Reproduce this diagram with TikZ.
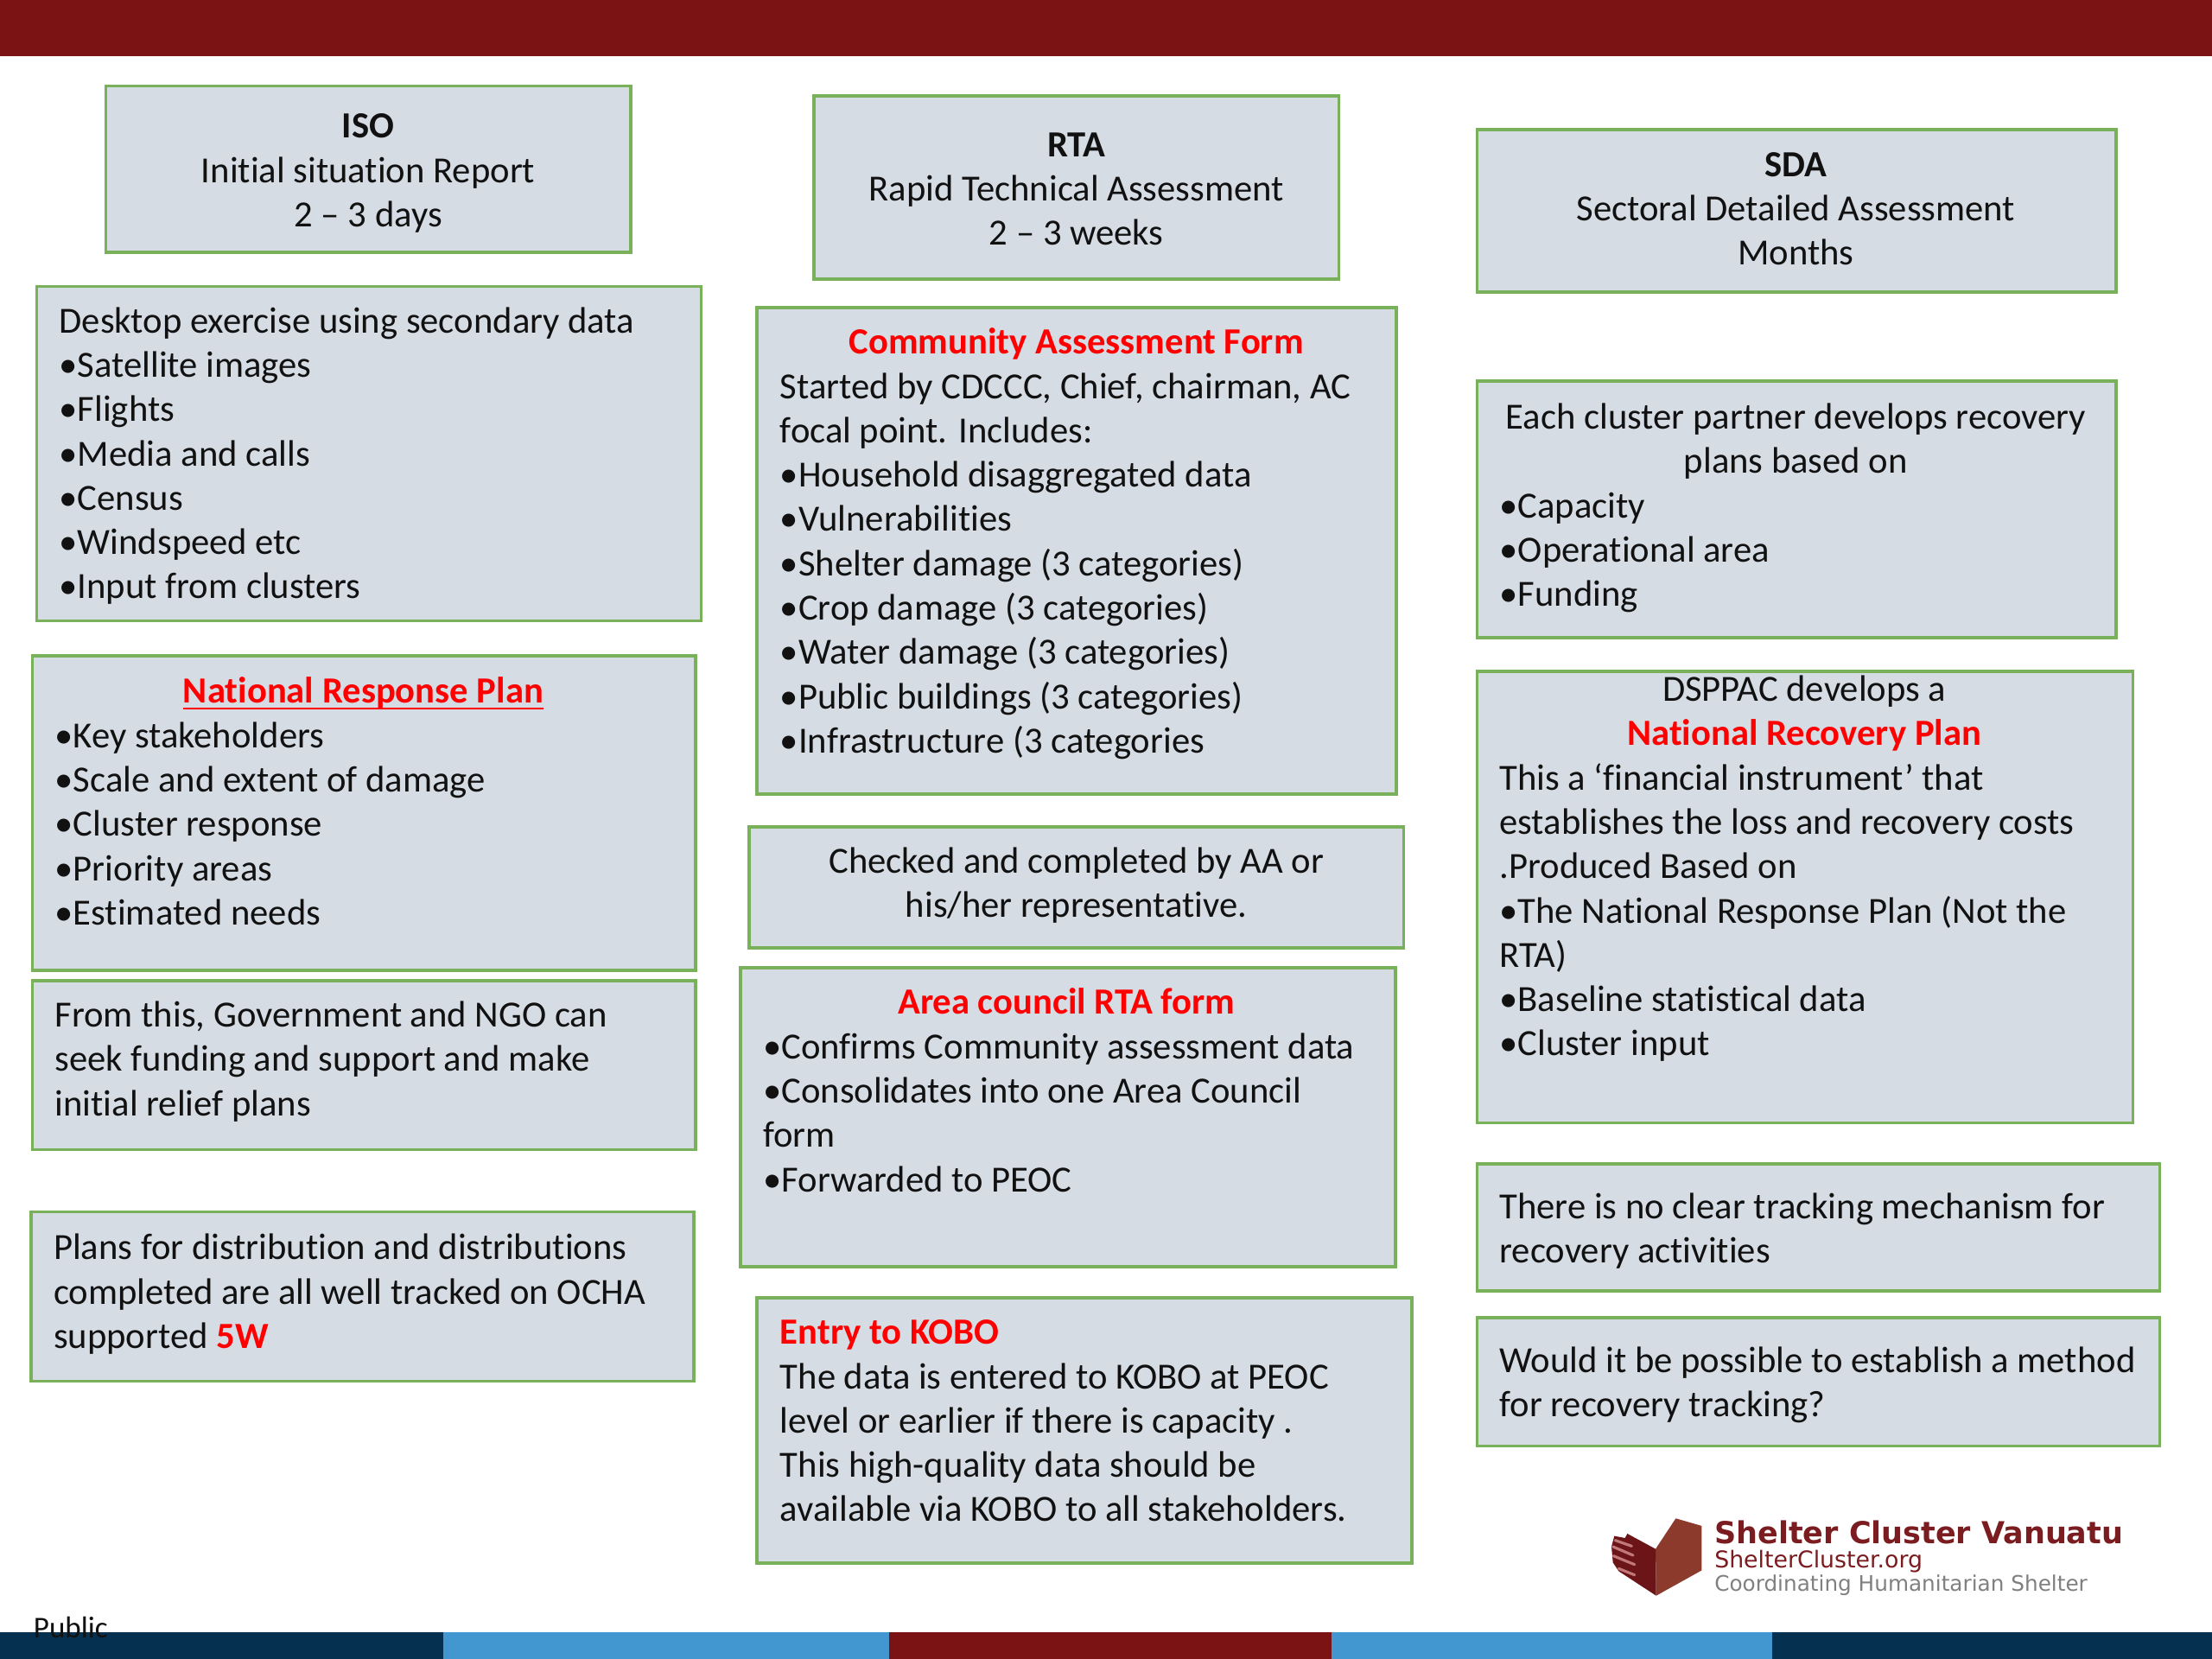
\documentclass[tikz,border=0pt]{standalone}
\usepackage{fontspec}
\setmainfont[Ligatures=NoCommon]{Carlito}
\newfontfamily\logofont{DejaVu Sans}
\usetikzlibrary{fit}
\definecolor{barred}{HTML}{7B1315}
\definecolor{navy}{HTML}{05304F}
\definecolor{skyb}{HTML}{4297D0}
\definecolor{boxfill}{HTML}{D5DCE4}
\definecolor{boxline}{HTML}{78B15A}
\definecolor{ink}{HTML}{111111}
\definecolor{logodark}{HTML}{6B1518}
\definecolor{logobrown}{HTML}{8B3A2C}
\definecolor{logostripe}{HTML}{C07878}
\definecolor{logotext}{HTML}{7A1C20}
\definecolor{logogray}{HTML}{808080}
\newcommand{\redb}[1]{\textcolor{red}{\textbf{#1}}}
\newcommand{\thickul}[1]{\setbox0\hbox{#1}\rlap{\rule[-2.6pt]{\wd0}{0.9pt}}\box0}
\tikzset{
  x=0.02cm,y=-0.02cm,
  panel/.style={draw=boxline,fill=boxfill,line width=1.3pt,inner sep=0pt,outer sep=0pt},
  txt/.style={inner sep=0pt,outer sep=0pt,text=ink,yshift=-0.01cm,font=\fontsize{14.87}{17.87}\selectfont},
  ltxt/.style={txt,anchor=north west,align=left},
  ctxt/.style={txt,anchor=north,align=center},
  bar/.style={draw=none,inner sep=0pt,outer sep=0pt},
}
\begin{document}
\begin{tikzpicture}
\useasboundingbox (0,0) rectangle (1568,1176);
\fill[white] (0,0) rectangle (1568,1176);
% bars
\node[bar,fill=barred,fit={(0,0)(1568,40)}] (topbar) {};
\node[bar,fill=navy,fit={(0,1157)(314,1176)}] (b1) {};
\node[bar,fill=skyb,fit={(314,1157)(630,1176)}] (b2) {};
\node[bar,fill=barred,fit={(630,1157)(944,1176)}] (b3) {};
\node[bar,fill=skyb,fit={(944,1157)(1256,1176)}] (b4) {};
\node[bar,fill=navy,fit={(1256,1157)(1568,1176)}] (b5) {};
% column 1
\node[panel,fit={(75,61)(447,179)}] (iso) {};
\node[ctxt] (isot) at (261,75.5) {\strut\textbf{ISO}\\Initial situation Report\\2 – 3 days};
\node[panel,fit={(26,203)(497,440)}] (desk) {};
\node[ltxt] (deskt) at (42,213.5) {\strut Desktop exercise using secondary data\\•Satellite images\\•Flights\\•Media and calls\\•Census\\•Windspeed etc\\•Input from clusters};
\node[panel,fit={(23,465)(493,688)}] (nrp) {};
\node[ctxt] (nrpt) at (257.5,476) {\strut\textcolor{red}{\thickul{\textbf{National Response Plan}}}};
\node[ltxt] (nrpl) at (39,507.5) {\strut •Key stakeholders\\•Scale and extent of damage\\•Cluster response\\•Priority areas\\•Estimated needs};
\node[panel,fit={(23,695)(493,815)}] (from) {};
\node[ltxt] (fromt) at (39,705.5) {\strut From this, Government and NGO can\\seek funding and support and make\\initial relief plans};
\node[panel,fit={(22,859)(492,979)}] (plans) {};
\node[ltxt] (planst) at (38,870.5) {\strut Plans for distribution and distributions\\completed are all well tracked on OCHA\\supported \redb{5W}};
% column 2
\node[panel,fit={(577,68)(949,198)}] (rta) {};
\node[ctxt] (rtat) at (763,88.5) {\strut\textbf{RTA}\\Rapid Technical Assessment\\2 – 3 weeks};
\node[panel,fit={(536.5,218)(990,563)}] (caf) {};
\node[ctxt] (caft) at (763,228.5) {\strut\redb{Community Assessment Form}};
\node[ltxt] (cafl) at (553,260) {\strut Started by CDCCC, Chief, chairman, AC\\focal point. Includes:\\•Household disaggregated data\\•Vulnerabilities\\•Shelter damage (3 categories)\\•Crop damage (3 categories)\\•Water damage (3 categories)\\•Public buildings (3 categories)\\•Infrastructure (3 categories};
\node[panel,fit={(531,586)(995,672)}] (chk) {};
\node[ctxt] (chkt) at (763,596.5) {\strut Checked and completed by AA or\\his/her representative.};
\node[panel,fit={(525,686)(989,898)}] (area) {};
\node[ctxt] (areat) at (756,696.5) {\strut\redb{Area council RTA form}};
\node[ltxt] (areal) at (541,728) {\strut •Confirms Community assessment data\\•Consolidates into one Area Council\\form\\•Forwarded to PEOC};
\node[panel,fit={(536.5,920)(1001,1108)}] (kobo) {};
\node[ltxt] (kobot) at (553,930.5) {\strut\redb{Entry to KOBO}\\The data is entered to KOBO at PEOC\\level or earlier if there is capacity .\\This high-quality data should be\\available via KOBO to all stakeholders.};
% column 3
\node[panel,fit={(1047,92)(1500,207)}] (sda) {};
\node[ctxt] (sdat) at (1273,102.5) {\strut\textbf{SDA}\\Sectoral Detailed Assessment\\Months};
\node[panel,fit={(1047,270)(1500,452)}] (each) {};
\node[ctxt] (eacht) at (1273,281.5) {\strut Each cluster partner develops recovery\\plans based on};
\node[ltxt] (eachl) at (1063,344.5) {\strut •Capacity\\•Operational area\\•Funding};
\node[panel,fit={(1047,476)(1512,796)}] (dsp) {};
\node[ctxt] (dspt) at (1279,474.5) {\strut DSPPAC develops a\\\redb{National Recovery Plan}};
\node[ltxt] (dspl) at (1063,537.5) {\strut This a ‘financial instrument’ that\\establishes the loss and recovery costs\\.Produced Based on\\•The National Response Plan (Not the\\RTA)\\•Baseline statistical data\\•Cluster input};
\node[panel,fit={(1047,825)(1531,915)}] (noc) {};
\node[ltxt] (noct) at (1063,841.5) {\strut There is no clear tracking mechanism for\\recovery activities};
\node[panel,fit={(1047,934)(1531,1025)}] (wou) {};
\node[ltxt] (wout) at (1063,950.5) {\strut Would it be possible to establish a method\\for recovery tracking?};
% logo
\begin{scope}[shift={(1133.1,1065.7)},x=0.004084cm,y=-0.004084cm]
\fill[logobrown] (198,158) -- (268,52) -- (358,78) -- (358,232) -- (200,320) -- cycle;
\fill[logodark] (198,158) -- (100,105) -- (92,120) -- (55,113) -- (45,150) -- (50,205) -- (70,235) -- (200,320) -- cycle;
\draw[logostripe,line width=1.1pt,line cap=round] (58,128) -- (115,148);
\draw[logostripe,line width=1.1pt,line cap=round] (50,150) -- (120,180);
\draw[logostripe,line width=1.1pt,line cap=round] (52,182) -- (125,212);
\draw[logostripe,line width=1.1pt,line cap=round] (70,226) -- (125,248);
\end{scope}
\node[inner sep=0pt,anchor=base west,text=logotext,font=\logofont\bfseries\fontsize{12.2}{14}\selectfont] (lg1) at (1215,1094) {Shelter Cluster Vanuatu};
\node[inner sep=0pt,anchor=base west,text=logotext,font=\logofont\fontsize{9.33}{11}\selectfont] (lg2) at (1215,1111.6) {ShelterCluster.org};
\node[inner sep=0pt,anchor=base west,text=logogray,font=\logofont\fontsize{8.62}{10}\selectfont] (lg3) at (1215,1128) {Coordinating Humanitarian Shelter};
% footer tag
\node[inner sep=0pt,anchor=base west,text=ink,font=\fontsize{12.2}{14}\selectfont] (pub) at (23.5,1161) {Public};
\end{tikzpicture}
\end{document}
